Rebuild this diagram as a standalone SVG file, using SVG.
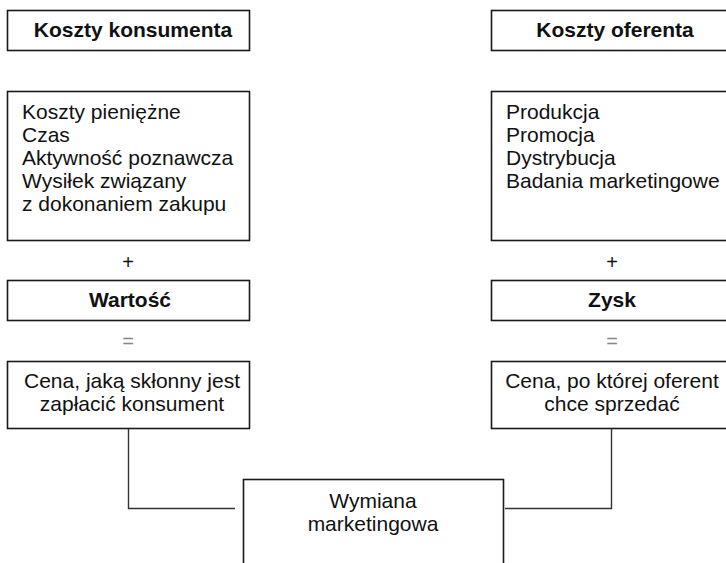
<svg xmlns="http://www.w3.org/2000/svg" width="726" height="563" viewBox="0 0 726 563">
<style>
.box{fill:#fff;stroke:#1a1a1a;stroke-width:1.6}
.t{font-family:"Liberation Sans",Arial,sans-serif;font-size:21px;fill:#111}
.b{font-weight:bold}
.c{text-anchor:middle}
.op{font-family:"Liberation Sans",Arial,sans-serif;font-size:20px;text-anchor:middle}
.conn{fill:none;stroke:#333;stroke-width:1.4}
</style>
<rect width="726" height="563" fill="#fff"/>
<g id="koszty-konsumenta">
<rect class="box" x="7.5" y="10.5" width="242" height="40"/>
<text class="t b c" x="133" y="37">Koszty konsumenta</text>
</g>
<g id="lista-konsumenta">
<rect class="box" x="7.5" y="91.5" width="242" height="149"/>
<text class="t" x="22" y="119">Koszty pieniężne</text>
<text class="t" x="22" y="142">Czas</text>
<text class="t" x="22" y="165">Aktywność poznawcza</text>
<text class="t" x="22" y="188">Wysiłek związany</text>
<text class="t" x="22" y="211">z dokonaniem zakupu</text>
</g>
<text class="op" x="128" y="269" fill="#111">+</text>
<g id="wartosc">
<rect class="box" x="7.5" y="280.5" width="242" height="40"/>
<text class="t b c" x="130" y="307">Wartość</text>
</g>
<text class="op" x="128" y="348" fill="#888">=</text>
<g id="cena-konsument">
<rect class="box" x="7.5" y="361.5" width="242" height="67"/>
<text class="t c" x="132" y="388">Cena, jaką skłonny jest</text>
<text class="t c" x="132" y="411">zapłacić konsument</text>
</g>
<g id="koszty-oferenta">
<rect class="box" x="491.5" y="10.5" width="242" height="40"/>
<text class="t b c" x="615" y="37">Koszty oferenta</text>
</g>
<g id="lista-oferenta">
<rect class="box" x="491.5" y="91.5" width="242" height="149"/>
<text class="t" x="506" y="119">Produkcja</text>
<text class="t" x="506" y="142">Promocja</text>
<text class="t" x="506" y="165">Dystrybucja</text>
<text class="t" x="506" y="188">Badania marketingowe</text>
</g>
<text class="op" x="612" y="269" fill="#111">+</text>
<g id="zysk">
<rect class="box" x="491.5" y="280.5" width="242" height="40"/>
<text class="t b c" x="612" y="307">Zysk</text>
</g>
<text class="op" x="612" y="348" fill="#888">=</text>
<g id="cena-oferent">
<rect class="box" x="491.5" y="361.5" width="242" height="67"/>
<text class="t c" x="612" y="388">Cena, po której oferent</text>
<text class="t c" x="612" y="411">chce sprzedać</text>
</g>
<g id="wymiana">
<rect class="box" x="243.5" y="479.5" width="260" height="100"/>
<text class="t c" x="373" y="508">Wymiana</text>
<text class="t c" x="373" y="531">marketingowa</text>
</g>
<g id="connectors">
<path class="conn" d="M128.5 429 V508.5 H235"/>
<path class="conn" d="M611.5 429 V508.5 H505"/>
</g>
</svg>
